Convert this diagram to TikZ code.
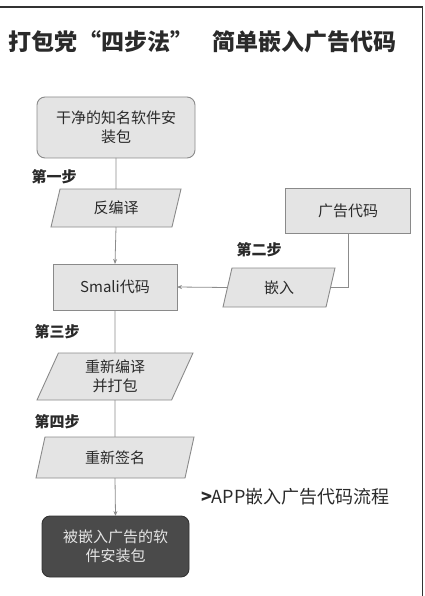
\documentclass[tikz,border=0pt]{standalone}
\usepackage{fontspec}
\setmainfont{Noto Sans CJK SC}
\usetikzlibrary{shapes.geometric,arrows.meta}
\definecolor{boxfill}{HTML}{E4E4E4}
\definecolor{boxline}{HTML}{8A8A8A}
\definecolor{darkfill}{HTML}{4A4A4A}
\definecolor{darkline}{HTML}{333333}
\definecolor{lineg}{HTML}{8C8C8C}
\definecolor{txt}{HTML}{2A2A2A}
\begin{document}
\begin{tikzpicture}[x=1pt,y=-1pt,
  every node/.style={inner sep=0pt, outer sep=0pt, text=txt},
  boxtext/.style={font=\fontsize{15}{19}\selectfont, align=center},
  roundbox/.style={boxtext, draw=boxline, fill=boxfill, line width=0.9pt, rounded corners=8pt, minimum width=#1},
  darkbox/.style={boxtext, draw=darkline, fill=darkfill, line width=0.9pt, rounded corners=8pt, text=white!90!black},
  rectbox/.style={boxtext, draw=boxline, fill=boxfill, line width=0.9pt},
  para/.style={boxtext, draw=boxline, fill=boxfill, line width=0.9pt, shape=trapezium,
    trapezium left angle=57, trapezium right angle=123, trapezium stretches body},
  steplabel/.style={font=\bfseries\fontsize{15}{18}\selectfont, text=txt},
  conn/.style={draw=lineg, line width=0.8pt},
  arr/.style={conn, -{Stealth[length=5pt,width=4pt]}}
]
\useasboundingbox (0,0) rectangle (424,596);
\draw[line width=1.3pt, color=darkline] (0,7) -- (422.5,7) -- (422.5,596);

\node[font=\bfseries\fontsize{23}{26}\selectfont, anchor=west] (title1) at (9,42) {打包党“四步法”};
\node[font=\bfseries\fontsize{23}{26}\selectfont, anchor=west] (title2) at (212,42) {简单嵌入广告代码};

\node[roundbox, minimum width=158pt, minimum height=61pt] (n1) at (116,127.5) {干净的知名软件安\\装包};
\node[steplabel] (s1) at (54,177) {第一步};
\node[para, minimum width=130pt, minimum height=38pt] (p1) at (116,208) {反编译};
\node[rectbox, minimum width=124pt, minimum height=46pt] (smali) at (115,287) {Smali代码};
\node[rectbox, minimum width=125pt, minimum height=45pt] (ad) at (348,210.5) {广告代码};
\node[steplabel] (s2) at (259,250) {第二步};
\node[para, minimum width=112pt, minimum height=39pt] (p2) at (279,287.5) {嵌入};
\node[steplabel] (s3) at (57,332) {第三步};
\node[para, minimum width=156pt, minimum height=47pt] (p3) at (115,376.5) {重新编译\\并打包};
\node[steplabel] (s4) at (57,422) {第四步};
\node[para, minimum width=158pt, minimum height=41pt] (p4) at (115,457.5) {重新签名};
\node[darkbox, minimum width=147pt, minimum height=61pt] (fin) at (115.5,546.5) {被嵌入广告的软\\件安装包};

\node[anchor=west, font=\fontsize{18}{20}\selectfont] (cap) at (201,497) {\textbf{>}APP嵌入广告代码流程};

\draw[conn] (n1.south) -- (p1.north);
\draw[arr] (p1.south) -- (smali.north);
\draw[conn] (smali.south) -- (p3.north);
\draw[conn] (p3.south) -- (p4.north);
\draw[arr] (p4.south) -- (fin.north);
\draw[conn] (ad.south) |- (p2.east);
\draw[arr] (p2.west) -- (smali.east);
\end{tikzpicture}
\end{document}
